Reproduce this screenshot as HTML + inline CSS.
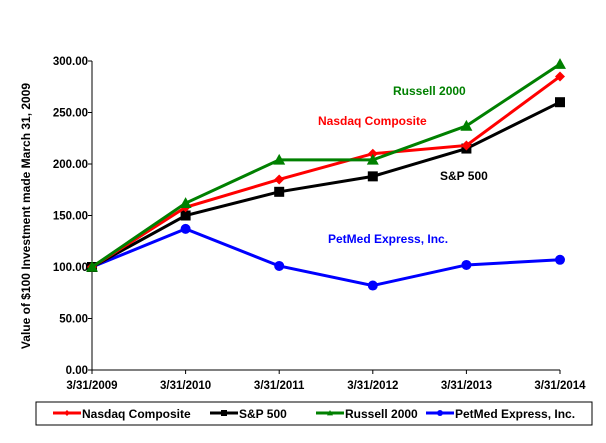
<!DOCTYPE html>
<html><head><meta charset="utf-8"><style>
body{margin:0;background:#fff;width:606px;height:438px;overflow:hidden}
svg text{font-family:"Liberation Sans",Arial,sans-serif;font-weight:bold}
</style></head><body>
<svg id="chart" width="606" height="438" xmlns="http://www.w3.org/2000/svg">
<g id="axes"></g><g id="series"></g>
<rect x="36" y="402" width="556" height="23" fill="#fff" stroke="#000" stroke-width="1"/>
<g id="legend"></g>
<text transform="translate(30,216) rotate(-90)" text-anchor="middle" font-size="12">Value of $100 Investment made March 31, 2009</text>
<text x="393" y="95" font-size="12" fill="#008000">Russell 2000</text>
<text x="318" y="125" font-size="12" fill="#ff0000">Nasdaq Composite</text>
<text x="440" y="180" font-size="12" fill="#000">S&amp;P 500</text>
<text x="328" y="243" font-size="12" fill="#0000ff">PetMed Express, Inc.</text>
</svg>
<script>
const categories=["3/31/2009","3/31/2010","3/31/2011","3/31/2012","3/31/2013","3/31/2014"];
const yTicks=[0,50,100,150,200,250,300];
const nasdaq=[100,158,185,210,218,285];
const sp500=[100,150,173,188,215,260];
const russell=[100,162,204,204,237,297];
const petmed=[100,137,101,82,102,107];
const NS="http://www.w3.org/2000/svg";
const X0=92,X1=560,Y0=370,Y1=61;
function xs(i){return X0+(X1-X0)*i/(categories.length-1);}
function ys(v){return Y0-(Y0-Y1)*v/300;}
function mk(t,a,p){const e=document.createElementNS(NS,t);for(const k in a)e.setAttribute(k,a[k]);p.appendChild(e);return e;}
const ax=document.getElementById('axes');
let l=mk('line',{x1:X0,y1:Y1,x2:X0,y2:Y0,stroke:'#000'},ax);


l=mk('line',{x1:X0,y1:Y0,x2:X1,y2:Y0,stroke:'#000'},ax);


yTicks.forEach(v=>{
 mk('line',{x1:X0-4,x2:X0,y1:ys(v),y2:ys(v),stroke:'#000'},ax);
 const t=mk('text',{x:X0-4,y:ys(v)+4,'text-anchor':'end','font-size':'11.5'},ax);
 t.textContent=v.toFixed(2);
 
 
});
categories.forEach((c,i)=>{
 mk('line',{x1:xs(i),x2:xs(i),y1:Y0,y2:Y0+4,stroke:'#000'},ax);
 const t=mk('text',{x:xs(i),y:389,'text-anchor':'middle','font-size':'11.5'},ax);
 t.textContent=c;
 
 
});
const sg=document.getElementById('series');
function marker(type,x,y,col,g,s){
 if(type==='diamond')return mk('polygon',{points:`${x},${y-s} ${x+s},${y} ${x},${y+s} ${x-s},${y}`,fill:col},g);
 if(type==='square')return mk('rect',{x:x-s,y:y-s,width:2*s,height:2*s,fill:col},g);
 if(type==='tri')return mk('polygon',{points:`${x},${y-s} ${x+s},${y+s*0.8} ${x-s},${y+s*0.8}`,fill:col},g);
 return mk('circle',{cx:x,cy:y,r:s,fill:col},g);
}
const series=[[petmed,'#0000ff','circle',5,'petmed'],[sp500,'#000','square',5,'sp500'],[nasdaq,'#ff0000','diamond',5,'nasdaq'],[russell,'#008000','tri',6,'russell']];
series.forEach(([d,col,m,s,n])=>{
 const g=mk('g',{},sg);
 
 
 const p=mk('polyline',{points:d.map((v,i)=>xs(i)+','+ys(v)).join(' '),fill:'none',stroke:col,'stroke-width':'3'},g);
 
 
 d.forEach((v,i)=>{const e=marker(m,xs(i),ys(v),col,g,s);
  
  });
});
const lg=document.getElementById('legend');
const items=[['Nasdaq Composite','#ff0000','diamond',53],['S&P 500','#000','square',210],['Russell 2000','#008000','tri',316],['PetMed Express, Inc.','#0000ff','circle',426]];
items.forEach(([name,col,m,x])=>{
 const g=mk('g',{},lg);
 
 
 mk('line',{x1:x,x2:x+28,y1:413,y2:413,stroke:col,'stroke-width':'3'},g);
 marker(m,x+14,413,col,g,3);
 const t=mk('text',{x:x+29,y:418,'font-size':'12'},g);
 t.textContent=name;
});
</script>
</body></html>
